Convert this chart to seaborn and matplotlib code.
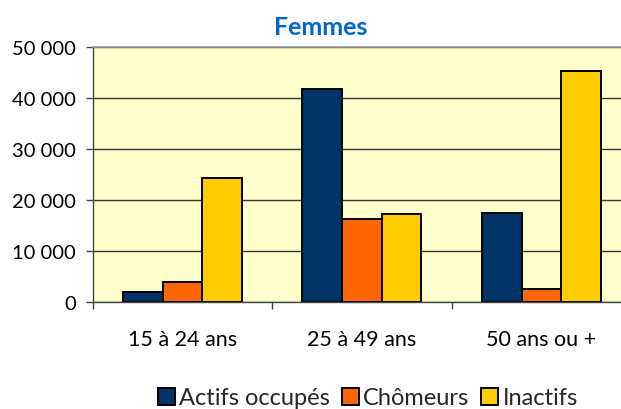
import matplotlib
matplotlib.use("Agg")
import matplotlib.pyplot as plt
import seaborn as sns
import pandas as pd
from matplotlib.ticker import FuncFormatter, FixedLocator

categories = ["15 à 24 ans", "25 à 49 ans", "50 ans ou +"]
series = ["Actifs occupés", "Chômeurs", "Inactifs"]
actifs = [2100, 41900, 17600]
chomeurs = [4050, 16300, 2600]
inactifs = [24400, 17300, 45450]
yticks = [0, 10000, 20000, 30000, 40000, 50000]
colors = ["#003366", "#FF6600", "#FFCC00"]
title = "Femmes"

rows = []
for s, vals in zip(series, [actifs, chomeurs, inactifs]):
    for c, v in zip(categories, vals):
        rows.append({"cat": c, "serie": s, "val": v})
df = pd.DataFrame(rows)

sns.set_theme(style="white")
plt.rcParams["font.family"] = ["Lato", "DejaVu Sans"]

W, H = 621, 410
fig = plt.figure(figsize=(W / 100, H / 100), dpi=100)
ax = fig.add_axes([92.7 / W, 106.7 / H, 538.5 / W, 255 / H])
ax.set_facecolor("#FFFFCC")

sns.barplot(data=df, x="cat", y="val", hue="serie", order=categories,
            hue_order=series, palette=colors, width=0.663, saturation=1,
            edgecolor="black", linewidth=1.4, ax=ax)

ax.set_xlim(-0.5, 2.5)
ax.set_ylim(0, 50000)
ax.set_yticks(yticks)
ax.yaxis.set_major_formatter(FuncFormatter(lambda v, p: f"{int(v):,}".replace(",", " ")))
ax.set_xlabel("")
ax.set_ylabel("")
ax.set_xticks(range(len(categories)))
ax.set_xticklabels(categories)
ax.xaxis.set_minor_locator(FixedLocator([-0.5, 0.5, 1.5, 2.5]))

ax.yaxis.grid(True, color="#333333", linewidth=1.0)
ax.set_axisbelow(True)

ax.tick_params(axis="y", left=True, length=5, width=1, color="#444444",
               pad=7, labelsize=14.5, labelcolor="black")
ax.tick_params(axis="x", which="major", bottom=True, length=0, pad=19,
               labelsize=15.5, labelcolor="black")
ax.tick_params(axis="x", which="minor", bottom=True, length=5, width=1,
               color="#444444")

for side in ["left", "bottom"]:
    ax.spines[side].set_color("#444444")
    ax.spines[side].set_linewidth(1.0)
ax.spines["top"].set_color("#999999")
ax.spines["top"].set_linewidth(1.2)
ax.spines["right"].set_visible(False)

handles, labels = ax.get_legend_handles_labels()
ax.legend(handles, labels, loc="center", bbox_to_anchor=(368 / W, 1 - 399 / H),
          bbox_transform=fig.transFigure, ncol=3, frameon=False,
          handlelength=0.7, handleheight=0.7, handletextpad=0.2,
          columnspacing=0.5, fontsize=17)

fig.text(321 / W, 1 - 27.7 / H, title, ha="center", va="center",
         color="#0066CC", fontweight="bold", fontsize=18)

fig.savefig("out.png", dpi=100)
